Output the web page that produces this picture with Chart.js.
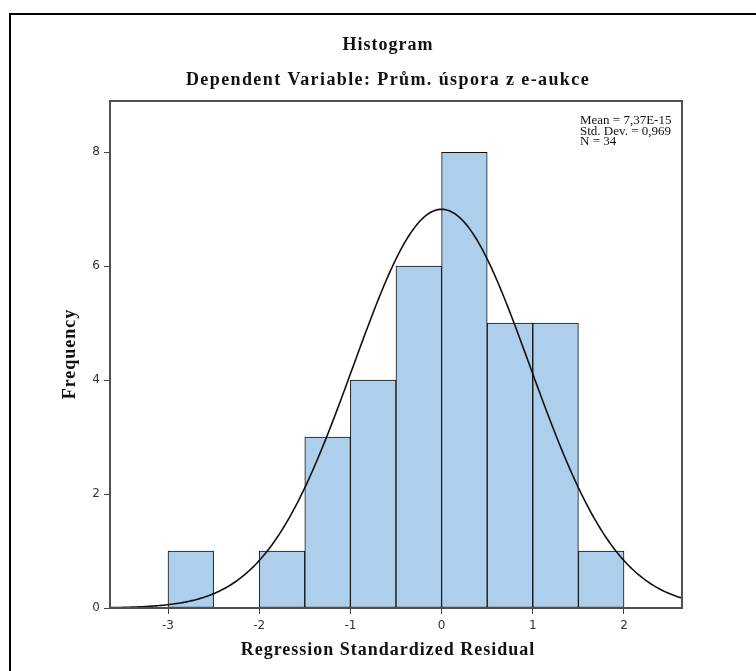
<!DOCTYPE html>
<html>
<head>
<meta charset="utf-8">
<title>Histogram</title>
<script src="https://cdn.jsdelivr.net/npm/chart.js@4/dist/chart.umd.min.js"></script>
<style>
  html, body { margin: 0; padding: 0; background: #fff; }
  #wrap { width: 756px; height: 671px; position: relative; }
</style>
</head>
<body>
<div id="wrap"><canvas id="histChart"></canvas></div>
<script>
// residual bins (width 0.5): centres and counts
const binCenters = [-2.75, -2.25, -1.75, -1.25, -0.75, -0.25, 0.25, 0.75, 1.25, 1.75];
const binCounts  = [1, 0, 1, 3, 4, 6, 8, 5, 5, 1];
const binWidth = 0.5;

const xTicks = [-3, -2, -1, 0, 1, 2];
const yTicks = [0, 2, 4, 6, 8];

// summary statistics for the fitted normal curve
const residMean = 7.37e-15;
const residSd = 0.969;
const residN = 34;
const statLines = ['Mean = 7,37E-15', 'Std. Dev. = 0,969', 'N = 34'];

const xMin = -3.636, xMax = 2.636;
const yMax = 8.9;

// normal density scaled to counts per bin
const curvePts = [];
for (let i = 0; i <= 300; i++) {
  const x = xMin + (xMax - xMin) * i / 300;
  const z = (x - residMean) / residSd;
  const y = residN * binWidth * Math.exp(-z * z / 2) / (residSd * Math.sqrt(2 * Math.PI));
  curvePts.push({ x: x, y: y });
}

const barPts = binCenters
  .map((c, i) => ({ x: c, y: binCounts[i] }))
  .filter(p => p.y > 0);

const serifBold = 'bold 18px "Liberation Serif", "Times New Roman", serif';

const decor = {
  id: 'decor',
  beforeDraw(chart) {
    const ctx = chart.ctx;
    ctx.save();
    ctx.fillStyle = '#fff';
    ctx.fillRect(0, 0, chart.width, chart.height);
    // outer frame (runs off the right and bottom edges)
    ctx.strokeStyle = '#000';
    ctx.lineWidth = 2;
    ctx.beginPath();
    ctx.moveTo(10, chart.height + 5);
    ctx.lineTo(10, 14);
    ctx.lineTo(chart.width + 5, 14);
    ctx.stroke();
    ctx.restore();
  },
  afterDraw(chart) {
    const ctx = chart.ctx;
    const a = chart.chartArea;
    ctx.save();
    // plot frame
    ctx.strokeStyle = '#505050';
    ctx.lineWidth = 2;
    ctx.strokeRect(a.left, a.top, a.right - a.left, a.bottom - a.top);

    ctx.fillStyle = '#111';
    ctx.font = serifBold;
    ctx.textAlign = 'center';
    ctx.textBaseline = 'middle';
    ctx.letterSpacing = '1px';
    ctx.fillText('Histogram', 388, 45);
    ctx.fillText('Regression Standardized Residual', 388, 650);
    ctx.letterSpacing = '1.4px';
    ctx.fillText('Dependent Variable: Prům. úspora z e-aukce', 388, 80);

    ctx.letterSpacing = '1px';
    ctx.save();
    ctx.translate(70, 354);
    ctx.rotate(-Math.PI / 2);
    ctx.fillText('Frequency', 0, 0);
    ctx.restore();

    // statistics box text
    ctx.font = '13px "Liberation Serif", "Times New Roman", serif';
    ctx.letterSpacing = '0px';
    ctx.textAlign = 'left';
    statLines.forEach((s, i) => ctx.fillText(s, 580, 121 + i * 10.5));
    ctx.restore();
  }
};

const tickFont = { family: '"DejaVu Sans", Verdana, sans-serif', size: 12 };

new Chart(document.getElementById('histChart'), {
  type: 'bar',
  data: {
    datasets: [
      {
        type: 'line',
        data: curvePts,
        borderColor: '#111',
        borderWidth: 1.6,
        pointRadius: 0,
        fill: false,
        tension: 0,
        order: 0
      },
      {
        type: 'bar',
        data: barPts,
        backgroundColor: '#aecfec',
        borderColor: '#111',
        borderWidth: 1,
        borderSkipped: false,
        barPercentage: 1,
        categoryPercentage: 1,
        order: 1
      }
    ]
  },
  options: {
    responsive: true,
    maintainAspectRatio: false,
    animation: false,
    layout: { padding: { left: 0, right: 74, top: 101, bottom: 0 } },
    plugins: {
      legend: { display: false },
      tooltip: { enabled: false }
    },
    scales: {
      x: {
        type: 'linear',
        offset: false,
        min: xMin,
        max: xMax,
        afterBuildTicks: s => { s.ticks = xTicks.map(v => ({ value: v })); },
        afterFit: s => { s.height = 63; },
        grid: { offset: false, drawOnChartArea: false, drawTicks: true, tickLength: 6, color: '#444' },
        border: { display: false },
        ticks: { font: tickFont, color: '#333', padding: 5, maxRotation: 0 }
      },
      y: {
        min: 0,
        max: yMax,
        afterBuildTicks: s => { s.ticks = yTicks.map(v => ({ value: v })); },
        afterFit: s => { s.width = 110; },
        grid: { drawOnChartArea: false, drawTicks: true, tickLength: 6, color: '#444' },
        border: { display: false },
        ticks: { font: tickFont, color: '#333', padding: 4 }
      }
    }
  },
  plugins: [decor]
});
</script>
</body>
</html>
